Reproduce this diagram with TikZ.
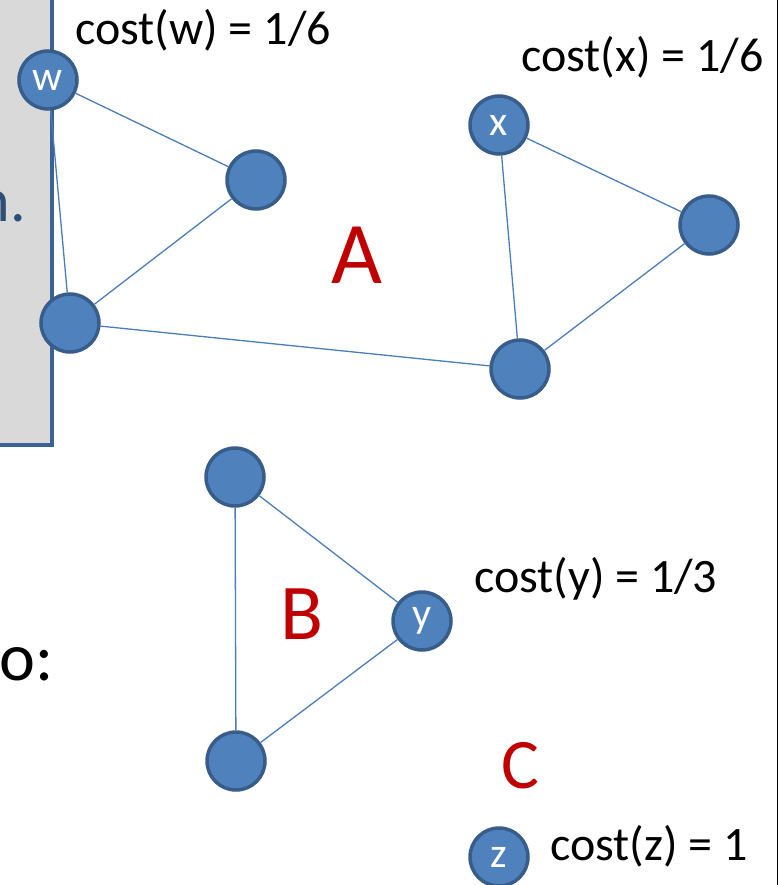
\documentclass[tikz,border=0pt]{standalone}
\usepackage{fontspec}
\setmainfont{Carlito}
\definecolor{vfill}{HTML}{4F81BD}
\definecolor{vline}{HTML}{385D8A}
\definecolor{ecol}{HTML}{4A7EBB}
\definecolor{boxgrey}{HTML}{D9D9D9}
\definecolor{boxline}{HTML}{3B6294}
\definecolor{setred}{HTML}{C00000}
\tikzset{
  vtx/.style={circle,fill=vfill,draw=vline,line width=3.5pt,minimum size=58pt,inner sep=0pt,
    text=white,font=\fontsize{42}{42}\selectfont},
  edg/.style={ecol,line width=1.3pt},
  costlbl/.style={anchor=base west,inner sep=0pt,font=\fontsize{48}{50}\selectfont},
  setlbl/.style={text=setred,anchor=base,inner sep=0pt}
}
\begin{document}
\begin{tikzpicture}[x=1pt,y=-1pt]
\useasboundingbox (0,0) rectangle (780,885);
% grey panel on the left
\draw[boxline,fill=boxgrey,line width=4pt] (-20,-20) rectangle (52,445);
\node[anchor=base east,inner sep=0pt,text=boxline!80!black,font=\fontsize{62}{62}\selectfont] (ntxt) at (26,222) {n.};
\node[anchor=base west,inner sep=0pt,font=\fontsize{68}{68}\selectfont] (otxt) at (-1,680) {o:};
\draw[black,line width=1pt] (777,0) -- (777,885);
% vertices
\node[vtx] (w) at (48,80) {w};
\node[vtx] (wa) at (256,180) {};
\node[vtx] (wb) at (70,323) {};
\node[vtx] (x) at (499,125) {x};
\node[vtx] (xa) at (709,225) {};
\node[vtx] (xb) at (520,369) {};
\node[vtx] (ba) at (235,477) {};
\node[vtx] (y) at (422,621) {y};
\node[vtx] (bb) at (236,761) {};
\node[vtx] (z) at (499,857) {z};
% edges
\draw[edg] (w) -- (wa);
\draw[edg] (w) -- (wb);
\draw[edg] (wa) -- (wb);
\draw[edg] (wb) -- (xb);
\draw[edg] (x) -- (xa);
\draw[edg] (x) -- (xb);
\draw[edg] (xa) -- (xb);
\draw[edg] (ba) -- (y);
\draw[edg] (ba) -- (bb);
\draw[edg] (y) -- (bb);
% labels
\node[costlbl] (cw) at (75,45) {cost(w) = 1/6};
\node[costlbl] (cx) at (521,72) {cost(x) = 1/6};
\node[costlbl] (cy) at (474,592) {cost(y) = 1/3};
\node[costlbl] (cz) at (550,860) {cost(z) = 1};
\node[setlbl,font=\fontsize{88}{88}\selectfont] (setA) at (357,283) {A};
\node[setlbl,font=\fontsize{79}{79}\selectfont] (setB) at (302,639) {B};
\node[setlbl,font=\fontsize{71}{71}\selectfont] (setC) at (520,788) {C};
\end{tikzpicture}
\end{document}
